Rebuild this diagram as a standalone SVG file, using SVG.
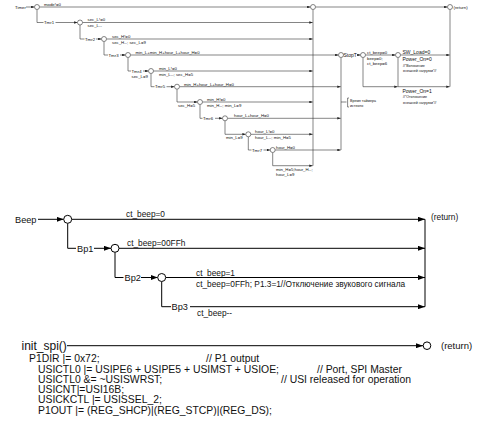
<svg xmlns="http://www.w3.org/2000/svg" width="483" height="435" viewBox="0 0 483 435">
<defs>
<marker id="a" markerUnits="userSpaceOnUse" markerWidth="3.4" markerHeight="2.6" refX="3.4" refY="1.3" orient="auto"><path d="M0,0L3.4,1.3L0,2.6z" fill="#222"/></marker>
<marker id="A" markerUnits="userSpaceOnUse" markerWidth="7" markerHeight="5" refX="7" refY="2.5" orient="auto"><path d="M0,0L7,2.5L0,5z" fill="#000"/></marker>
</defs>
<style>
text{font-family:"Liberation Sans",Arial,sans-serif;fill:#111}
.s{font-size:4.3px}
.c{font-size:3.6px}
.m{font-size:5px}
.b{font-size:8.3px}
.bl{font-size:9.2px}
.k{font-size:10.4px}
.ln{fill:none;stroke:#333;stroke-width:0.6}
.lb{fill:none;stroke:#000;stroke-width:1}
.ci{fill:#fff;stroke:#333;stroke-width:0.6}
.cb{fill:#fff;stroke:#000;stroke-width:1}
.ar{marker-end:url(#a)}
.AR{marker-end:url(#A)}
</style>
<g id="connectors-timer" class="ln">
<path class="ar" d="M26,7H34.5"/>
<path class="ar" d="M39.5,7H310.5"/>
<path class="ar" d="M315.5,7H447.5"/>
<path d="M37,9.5V22.5H43.5"/><path class="ar" d="M55.5,22.5H77.5"/>
<path class="ar" d="M82.5,22.5H312.7"/>
<path d="M80,25V39H84.5"/><path class="ar" d="M96,39H101.5"/>
<path class="ar" d="M106.5,39H312.7"/>
<path d="M104,41.5V55H108"/><path class="ar" d="M120,55H125.5"/>
<path class="ar" d="M130.5,55H338.5"/>
<path d="M128,57.5V71H131"/><path class="ar" d="M143,71H148.5"/>
<path class="ar" d="M153.5,71H312.7"/>
<path d="M151,73.5V86.7H154.5"/><path class="ar" d="M166.5,86.7H174.5"/>
<path class="ar" d="M179.5,86.7H340.7"/>
<path class="ar" d="M177,89.2V102H197.5"/>
<path class="ar" d="M202.5,102H312.7"/>
<path d="M200,104.5V118.3H202.5"/><path class="ar" d="M215,118.3H222.5"/>
<path class="ar" d="M227.5,118.3H340.7"/>
<path class="ar" d="M225,120.8V134.3H245.8"/>
<path class="ar" d="M250.8,134.3H312.7"/>
<path d="M248.3,136.8V150H251.5"/><path class="ar" d="M263.5,150H270.2"/>
<path class="ar" d="M275.2,150H340.7"/>
<path class="ar" d="M272.7,152.5V165.7H312.7"/>
<path d="M313,9.5V165.7"/>
<path d="M341,57.5V150"/>
<path d="M341,102H346.5M349,98H347.6V107H349"/>
<path class="ar" d="M358,55H360.5"/>
<path class="ar" d="M365.5,55H395.5"/>
<path class="ar" d="M400.5,55H449.7"/>
<path class="ar" d="M363,57.5V86.7H397.7"/>
<path class="ar" d="M398,57.5V86.7H449.7"/>
<path d="M450,9.5V86.7"/>
</g>
<g id="timer-nodes">
<g id="timer"><text class="s" x="15" y="8.6">Timer</text><circle class="ci" cx="37" cy="7" r="2.5"/><text class="s" x="44" y="5.8">mode!=0</text></g>
<g id="tmr1"><text class="s" x="44" y="24">Tmr1</text><circle class="ci" cx="80" cy="22.5" r="2.5"/><text class="s" x="87.5" y="21.3">sec_L!=0</text><text class="s" x="87.5" y="27.3">sec_L--</text></g>
<g id="tmr2"><text class="s" x="85" y="40.5">Tmr2</text><circle class="ci" cx="104" cy="39" r="2.5"/><text class="s" x="112" y="37.8">sec_H!=0</text><text class="s" x="112" y="43.8">sec_H--; sec_L=9</text></g>
<g id="tmr3"><text class="s" x="108.5" y="56.5">Tmr3</text><circle class="ci" cx="128" cy="55" r="2.5"/><text class="s" x="135.5" y="53.8">min_L+min_H+hour_L+hour_H=0</text></g>
<g id="tmr4"><text class="s" x="131.5" y="72.5">Tmr4</text><text class="s" x="131.5" y="77.5">sec_L=9</text><circle class="ci" cx="151" cy="71" r="2.5"/><text class="s" x="159" y="69.8">min_L!=0</text><text class="s" x="159" y="75.8">min_L--; sec_H=5</text></g>
<g id="tmr5"><text class="s" x="155" y="88.2">Tmr5</text><circle class="ci" cx="177" cy="86.7" r="2.5"/><text class="s" x="184" y="85.5">min_H+hour_L+hour_H=0</text></g>
<g id="tmr5b"><text class="s" x="178" y="106.8">sec_H=5</text><circle class="ci" cx="200" cy="102" r="2.5"/><text class="s" x="207" y="100.8">min_H!=0</text><text class="s" x="207" y="106.8">min_H--; min_L=9</text></g>
<g id="tmr6"><text class="s" x="203" y="119.8">Tmr6</text><circle class="ci" cx="225" cy="118.3" r="2.5"/><text class="s" x="234" y="117.1">hour_L+hour_H=0</text></g>
<g id="tmr6b"><text class="s" x="226" y="139.1">min_L=9</text><circle class="ci" cx="248.3" cy="134.3" r="2.5"/><text class="s" x="255" y="133.1">hour_L!=0</text><text class="s" x="255" y="139.1">hour_L--; min_H=5</text></g>
<g id="tmr7"><text class="s" x="252" y="151.5">Tmr7</text><circle class="ci" cx="272.7" cy="150" r="2.5"/><text class="s" x="276" y="148.8">hour_H=0</text><text class="s" x="276" y="170.5">min_H=5;hour_H--;</text><text class="s" x="276" y="175.5">hour_L=9</text></g>
<g id="merge"><circle class="ci" cx="313" cy="7" r="2.5"/></g>
<g id="stopt"><circle class="ci" cx="341" cy="55" r="2.5"/><text class="m" x="343.5" y="56.8">StopT</text><text class="c" x="350" y="101.5">Время таймера</text><text class="c" x="350" y="106.5">истекло</text></g>
<g id="beepchk"><circle class="ci" cx="363" cy="55" r="2.5"/><text class="s" x="367" y="53.8">ct_beep=0</text><text class="s" x="367" y="59.8">beep=0;</text><text class="s" x="367" y="65">ct_beep=6</text></g>
<g id="swload"><circle class="ci" cx="398" cy="55" r="2.5"/><text class="m" x="402.5" y="53.5">SW_Load=0</text><text class="m" x="402.5" y="61">Power_On=0</text><text class="c" x="403" y="66.5">//"Включение</text><text class="c" x="403" y="72">внешней нагрузки"//</text><text class="m" x="402.5" y="92.5">Power_On=1</text><text class="c" x="403" y="98">//"Отключение</text><text class="c" x="403" y="103.5">внешней нагрузки"//</text></g>
<g id="return-timer"><circle class="ci" cx="450" cy="7" r="2.5"/><text class="s" x="453.5" y="8.5">(return)</text></g>
</g>
<g id="connectors-beep" class="lb">
<path class="AR" d="M38,219.3H63.7"/>
<path class="AR" d="M71.7,219.3H425"/>
<path d="M67.7,223.3V248.3H76"/><path class="AR" d="M94,248.3H111"/>
<path class="AR" d="M119,248.3H425"/>
<path d="M115,252.3V277.5H123.5"/><path class="AR" d="M141,277.5H157.7"/>
<path class="AR" d="M165.7,277.5H425"/>
<path d="M161.7,281.5V306.7H171"/><path class="AR" d="M190,306.7H425"/>
<path d="M425,219.3V306.7"/>
</g>
<g id="beep-nodes">
<g id="beep"><text class="bl" x="15" y="222.6">Beep</text><circle class="cb" cx="67.7" cy="219.3" r="4"/><text class="b" x="126" y="217">ct_beep=0</text></g>
<g id="bp1"><text class="bl" x="77" y="251.6">Bp1</text><circle class="cb" cx="115" cy="248.3" r="4"/><text class="b" x="127" y="246">ct_beep=00FFh</text></g>
<g id="bp2"><text class="bl" x="124.5" y="280.8">Bp2</text><circle class="cb" cx="161.7" cy="277.5" r="4"/><text class="b" x="196" y="275.5">ct_beep=1</text><text class="b" x="196" y="287">ct_beep=0FFh; P1.3=1//Отключение звукового сигнала</text></g>
<g id="bp3"><text class="bl" x="171.5" y="310">Bp3</text><text class="b" x="197" y="315.5">ct_beep--</text></g>
<g id="return-beep"><text class="b" x="431" y="219.5">(return)</text></g>
</g>
<g id="connectors-spi" class="lb">
<path class="AR" d="M67,345.7H423"/>
</g>
<g id="spi-nodes">
<g id="init_spi"><text x="21.5" y="349.5" font-size="12">init_spi()</text></g>
<g id="code">
<text class="k" x="29" y="361.8">P1DIR |= 0x72;</text>
<text class="k" x="206" y="361.8">// P1 output</text>
<text class="k" x="38" y="372.6">USICTL0 |= USIPE6 + USIPE5 + USIMST + USIOE;</text>
<text class="k" x="317" y="372.6">// Port, SPI Master</text>
<text class="k" x="38" y="382.8">USICTL0 &amp;= ~USISWRST;</text>
<text class="k" x="281" y="382.8">// USI released for operation</text>
<text class="k" x="38" y="392.8">USICNT|=USI16B;</text>
<text class="k" x="38" y="403.3">USICKCTL |= USISSEL_2;</text>
<text class="k" x="38" y="413.5">P1OUT |= (REG_SHCP)|(REG_STCP)|(REG_DS);</text>
</g>
<g id="return-spi"><circle class="cb" cx="427" cy="345.7" r="3.8"/><text font-size="9.5" x="441" y="349">(return)</text></g>
</g>
</svg>
